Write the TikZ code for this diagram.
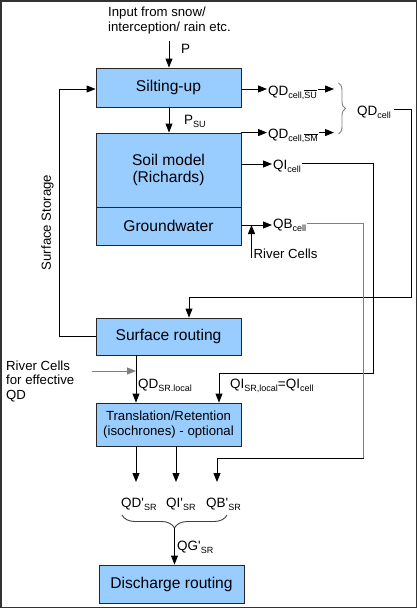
\documentclass[tikz,border=0pt]{standalone}
\usepackage{fontspec}
\setmainfont{Liberation Sans}
\usetikzlibrary{arrows.meta,decorations.pathreplacing}
\definecolor{boxblue}{HTML}{99CCFF}
\definecolor{framec}{HTML}{333333}
\definecolor{lgray}{HTML}{808080}
\newcommand\sbs[1]{\raisebox{-3pt}{\fontsize{9}{9}\selectfont #1}}
\newcommand\ovl[1]{$\overline{\hbox{#1}}$}
\begin{document}
\begin{tikzpicture}[x=1pt,y=-1pt,
 box/.style={draw=black!85, fill=boxblue, line width=0.9pt, minimum width=145pt, inner sep=0pt, align=center, font=\fontsize{15.6}{17}\selectfont},
 lab/.style={inner sep=1pt, font=\fontsize{13.5}{14.5}\selectfont},
 txt/.style={inner sep=0pt, font=\fontsize{13.2}{14.5}\selectfont},
 arr/.style={-{Triangle[length=9pt,width=7pt]}, line width=0.9pt},
 garr/.style={-{Triangle[length=9pt,width=7pt]}, line width=0.9pt, draw=lgray, fill=black!70},
 ln/.style={line width=0.9pt},
 gl/.style={line width=0.9pt, draw=lgray},
 brc/.style={line width=0.9pt, decorate},
]
\useasboundingbox (0,0) rectangle (417,608);
\draw[framec, line width=1.5pt] (0.75,0.75) rectangle (416.25,607.25);

% boxes
\node[box, minimum height=39pt] (silt) at (168.5,87.5) {Silting-up};
\node[box, minimum height=74pt] (soil) at (168.5,170) {Soil model\\(Richards)};
\node[box, minimum height=38pt] (gw) at (168.5,226) {Groundwater};
\node[box, minimum height=37pt] (surf) at (168.5,336.5) {Surface routing};
\node[box, minimum height=43pt, font=\fontsize{13.2}{14.5}\selectfont] (trans) at (168.5,424.5) {Translation/Retention\\(isochrones) - optional};
\node[box, minimum height=38pt] (disch) at (171.5,584) {Discharge routing};

% input
\node[txt, anchor=base west] (in1) at (108,16.7) {Input from snow/};
\node[txt, anchor=base west] (in2) at (108,31) {interception/ rain etc.};
\coordinate (pin) at (169,41);
\draw[arr] (pin) -- (pin |- silt.north);
\node[lab, anchor=base west] (P) at (180,53) {P};
\draw[arr] (silt.south -| pin) -- (soil.north -| pin);
\node[lab, anchor=base west] (psu) at (183,124) {P\sbs{SU}};

% QD cell outputs
\coordinate (ySU) at (0,89);
\coordinate (brIn) at (334,0);
\node[lab, anchor=base west] (qdsu) at (267,95) {QD\sbs{cell,\ovl{SU}}};
\draw[arr] (silt.east |- ySU) -- (qdsu.west |- ySU);
\draw[arr] (qdsu.east |- ySU) -- (brIn |- ySU);
\node[lab, anchor=base west] (qdsm) at (267,138.5) {QD\sbs{cell,\ovl{SM}}};
\draw[arr] (soil.north east) -- (soil.north east -| qdsm.west);
\draw[arr] (qdsm.east |- soil.north east) -- (brIn |- soil.north east);
\coordinate (brTop) at (338.5,83);
\coordinate (brBot) at (338.5,134);
\draw[brc, lgray, decoration={brace, amplitude=7pt}] (brTop) -- (brBot);
\node[lab, anchor=base west] (qdcell) at (356,115) {QD\sbs{cell}};
\coordinate (rtop) at (411,109);
\coordinate (rbot) at (411,297);
\coordinate (sinx) at (189,0);
\draw[arr] ([xshift=2pt]qdcell.east |- rtop) -- (rtop) -- (rbot) -| (sinx |- surf.north);

% QI
\coordinate (yQI) at (0,164);
\node[lab, anchor=base west] (qicell) at (272,169.5) {QI\sbs{cell}};
\draw[arr] (soil.east |- yQI) -- (qicell.west |- yQI);
\coordinate (qiTop) at (373,163.5);
\coordinate (qiBot) at (373,373);
\coordinate (tinx) at (219,0);
\draw[arr] (qicell.east |- qiTop) -- (qiTop) -- (qiBot) -| (tinx |- trans.north);

% QB
\coordinate (yQB) at (0,225);
\node[lab, anchor=base west] (qbcell) at (272,228) {QB\sbs{cell}};
\draw[arr] (gw.east |- yQB) -- (qbcell.west |- yQB);
\node[txt, anchor=base west] (rc) at (253.5,258) {River Cells};
\coordinate (rcx) at (251.5,0);
\draw[arr] (rcx |- rc.south) -- (rcx |- yQB);
\coordinate (qbTop) at (363.5,223);
\coordinate (qbBot) at (363.5,458);
\coordinate (t3x) at (217,0);
\draw[gl] (qbcell.east |- qbTop) -- (qbTop) -- (qbBot);
\coordinate (yOut) at (0,482);
\draw[arr] (qbBot) -| (t3x |- yOut);

% surface storage loop
\coordinate (lx) at (59,0);
\draw[arr] (surf.west) -| (lx |- ySU) -- (silt.west |- ySU);
\node[txt, rotate=90] (ss) at (47.5,222.5) {Surface Storage};

% surface routing -> translation
\coordinate (dx) at (136,0);
\draw[arr] (dx |- surf.south) -- (dx |- trans.north);
\node[lab, anchor=base west] (qdsr) at (137,388) {QD\sbs{SR.local}};
\node[lab, anchor=base west] (qisr) at (229,388) {QI\sbs{SR,local}=QI\sbs{cell}};
\node[txt, anchor=base west] (rc1) at (6,370) {River Cells};
\node[txt, anchor=base west] (rc2) at (6,384.5) {for effective};
\node[txt, anchor=base west] (rc3) at (6,399) {QD};
\coordinate (rcs) at (91.5,371);
\draw[garr] (rcs) -- (dx |- rcs);

% outputs of translation
\draw[arr] (dx |- trans.south) -- (dx |- yOut);
\coordinate (d2x) at (176,0);
\draw[arr] (d2x |- trans.south) -- (d2x |- yOut);
\node[lab, anchor=base west] (qdp) at (120,507) {QD\textquotesingle\sbs{SR}};
\node[lab, anchor=base west] (qip) at (165,507) {QI\textquotesingle\sbs{SR}};
\node[lab, anchor=base west] (qbp) at (205,507) {QB\textquotesingle\sbs{SR}};
\coordinate (bbL) at (122,515);
\coordinate (bbR) at (227,515);
\draw[brc, black!75, decoration={brace, amplitude=13pt}] (bbR) -- (bbL);
\coordinate (btip) at (174.5,528);
\draw[arr] (btip) -- (btip |- disch.north);
\node[lab, anchor=base west] (qgp) at (176,550) {QG\textquotesingle\sbs{SR}};
\end{tikzpicture}
\end{document}
